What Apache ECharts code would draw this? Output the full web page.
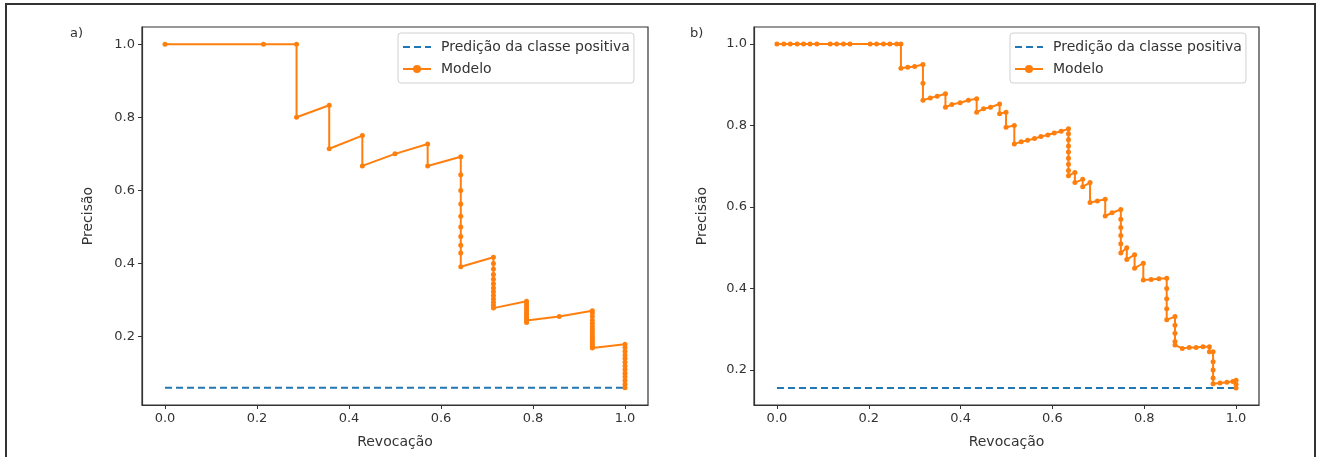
<!DOCTYPE html>
<html>
<head>
<meta charset="utf-8">
<script src="https://cdn.jsdelivr.net/npm/echarts@6/dist/echarts.min.js"></script>
<style>
html,body{margin:0;padding:0;background:#fff;}
#chart{width:1321px;height:457px;}
</style>
</head>
<body>
<div id="chart"></div>
<script>
// ---- Data ----
const panelLabels = ['a)', 'b)'];
const seriesNames = ['Predição da classe positiva', 'Modelo'];
const xAxisName = 'Revocação';
const yAxisName = 'Precisão';
const xTicks = [0.0, 0.2, 0.4, 0.6, 0.8, 1.0];
const yTicks = [0.2, 0.4, 0.6, 0.8, 1.0];

// Panel a
const baselineA = 0.06;
const recallA = [
  0.0, 0.214, 0.286, 0.286, 0.357, 0.357, 0.429, 0.429, 0.5, 0.571, 0.571, 0.643,
  0.643, 0.643, 0.643, 0.643, 0.643, 0.643, 0.643, 0.643, 0.643,
  0.714, 0.714, 0.714, 0.714, 0.714, 0.714, 0.714, 0.714, 0.714, 0.714, 0.714, 0.714, 0.714,
  0.786, 0.786, 0.786, 0.786, 0.786, 0.786, 0.786, 0.786, 0.786, 0.786,
  0.857,
  0.929, 0.929, 0.929, 0.929, 0.929, 0.929, 0.929, 0.929, 0.929, 0.929, 0.929, 0.929, 0.929, 0.929, 0.929, 0.929,
  1.0, 1.0, 1.0, 1.0, 1.0, 1.0, 1.0, 1.0, 1.0, 1.0, 1.0, 1.0, 1.0
];
const precisionA = [
  1.0, 1.0, 1.0, 0.8, 0.833, 0.714, 0.75, 0.667, 0.7, 0.727, 0.667, 0.692,
  0.643, 0.6, 0.5625, 0.529, 0.5, 0.474, 0.45, 0.429, 0.391,
  0.417, 0.4, 0.385, 0.37, 0.357, 0.345, 0.333, 0.323, 0.3125, 0.303, 0.294, 0.286, 0.278,
  0.297, 0.289, 0.282, 0.275, 0.268, 0.262, 0.256, 0.25, 0.244, 0.239,
  0.255,
  0.271, 0.265, 0.255, 0.245, 0.236, 0.228, 0.22, 0.213, 0.206, 0.2, 0.194, 0.188, 0.183, 0.178, 0.173, 0.169,
  0.179, 0.17, 0.16, 0.15, 0.14, 0.13, 0.12, 0.11, 0.1, 0.09, 0.08, 0.07, 0.06
];

// Panel b
const baselineB = 0.156;
const recallB = [
  0.0, 0.015, 0.029, 0.044, 0.058, 0.072, 0.087, 0.116, 0.13, 0.145, 0.159, 0.203, 0.217, 0.232, 0.246, 0.261, 0.27,
  0.27, 0.285, 0.3, 0.318, 0.318, 0.318, 0.334, 0.349, 0.367, 0.367, 0.381, 0.399, 0.417, 0.435, 0.435,
  0.45, 0.465, 0.485, 0.485, 0.499, 0.499, 0.517, 0.517,
  0.532, 0.546, 0.561, 0.575, 0.59, 0.604, 0.619, 0.635,
  0.635, 0.635, 0.635, 0.635, 0.635, 0.635, 0.635, 0.635,
  0.649, 0.649, 0.666, 0.666, 0.682, 0.682, 0.698, 0.715, 0.715, 0.73, 0.749,
  0.749, 0.749, 0.749, 0.749, 0.749,
  0.762, 0.762, 0.779, 0.779, 0.798, 0.798, 0.815, 0.832, 0.849,
  0.849, 0.849, 0.849, 0.849, 0.867, 0.867, 0.867, 0.867, 0.867,
  0.883, 0.898, 0.913, 0.928, 0.942, 0.942, 0.95,
  0.95, 0.95, 0.95, 0.95, 0.965, 0.98, 0.993, 1.0, 1.0, 1.0
];
const precisionB = [
  1.0, 1.0, 1.0, 1.0, 1.0, 1.0, 1.0, 1.0, 1.0, 1.0, 1.0, 1.0, 1.0, 1.0, 1.0, 1.0, 1.0,
  0.941, 0.943, 0.945, 0.95, 0.904, 0.862, 0.868, 0.872, 0.878, 0.845, 0.852, 0.856, 0.862, 0.866, 0.833,
  0.841, 0.845, 0.853, 0.829, 0.833, 0.796, 0.8, 0.755,
  0.76, 0.764, 0.768, 0.773, 0.777, 0.782, 0.786, 0.792,
  0.78, 0.765, 0.75, 0.735, 0.72, 0.705, 0.69, 0.677,
  0.685, 0.66, 0.668, 0.65, 0.66, 0.611, 0.615, 0.619, 0.578, 0.586, 0.594,
  0.57, 0.55, 0.53, 0.51, 0.487,
  0.5, 0.471, 0.483, 0.45, 0.462, 0.421, 0.422, 0.424, 0.425,
  0.4, 0.375, 0.35, 0.323, 0.331, 0.31, 0.29, 0.27, 0.261,
  0.253, 0.255, 0.255, 0.257, 0.257, 0.245, 0.245,
  0.22, 0.2, 0.18, 0.166, 0.168, 0.17, 0.172, 0.175, 0.165, 0.156
];

// ---- Build ----
const zip = (xs, ys) => xs.map((x, i) => [x, ys[i]]);
const ORANGE = '#ff7f0e', BLUE = '#1f77b4', AX = '#333';
const FONT = 'DejaVu Sans';

const grids = [
  {left: 142, top: 27, width: 506, height: 378},
  {left: 754, top: 27, width: 505, height: 378}
];
const yRanges = [[0.013, 1.047], [0.114, 1.042]];

function xAxis(i) {
  return {
    type: 'value', gridIndex: i, min: -0.05, max: 1.05,
    name: xAxisName, nameLocation: 'middle', nameGap: 30,
    nameTextStyle: {fontFamily: FONT, fontSize: 14, color: '#333'},
    axisLine: {show: true, onZero: false, lineStyle: {color: AX, width: 1.2}},
    axisTick: {show: true, length: 4, customValues: xTicks, lineStyle: {color: AX}},
    axisLabel: {customValues: xTicks, formatter: v => v.toFixed(1), fontFamily: FONT, fontSize: 13, color: '#333', margin: 7},
    splitLine: {show: false}
  };
}
function yAxis(i) {
  return {
    type: 'value', gridIndex: i, min: yRanges[i][0], max: yRanges[i][1],
    name: yAxisName, nameLocation: 'middle', nameGap: i === 0 ? 47 : 45,
    nameTextStyle: {fontFamily: FONT, fontSize: 14, color: '#333'},
    axisLine: {show: true, onZero: false, lineStyle: {color: AX, width: 1.2}},
    axisTick: {show: true, length: 4, customValues: yTicks, lineStyle: {color: AX}},
    axisLabel: {customValues: yTicks, formatter: v => v.toFixed(1), fontFamily: FONT, fontSize: 13, color: '#333', margin: 7},
    splitLine: {show: false}
  };
}
function legend(i) {
  return {
    left: i === 0 ? 398 : 1010, top: 33, orient: 'vertical',
    data: [
      {name: seriesNames[0], itemStyle: {opacity: 0}},
      {name: seriesNames[1]}
    ],
    itemWidth: 28, itemHeight: 10, itemGap: 8,
    padding: [7, 4, 7, 4],
    borderColor: '#d0d0d0', borderWidth: 1, borderRadius: 3,
    backgroundColor: 'rgba(255,255,255,0.85)',
    textStyle: {fontFamily: FONT, fontSize: 14, color: '#333', padding: [0, 0, 0, 5]},
    selectedMode: false
  };
}
const modelData = [zip(recallA, precisionA), zip(recallB, precisionB)];
const baselines = [baselineA, baselineB];

const series = [];
[0, 1].forEach(i => {
  series.push({
    name: seriesNames[0], type: 'line', xAxisIndex: i, yAxisIndex: i,
    data: [[0, baselines[i]], [1, baselines[i]]],
    showSymbol: false, symbol: 'none',
    lineStyle: {color: BLUE, width: 2, type: [7, 4]},
    itemStyle: {color: BLUE}, z: 2, silent: true
  });
  series.push({
    name: seriesNames[1], type: 'line', xAxisIndex: i, yAxisIndex: i,
    data: modelData[i],
    symbol: 'circle', symbolSize: 5, showAllSymbol: true,
    lineStyle: {color: ORANGE, width: 2},
    itemStyle: {color: ORANGE}, z: 3, silent: true
  });
});

const chart = echarts.init(document.getElementById('chart'), null, {renderer: 'canvas'});
chart.setOption({
  animation: false,
  backgroundColor: '#fff',
  grid: grids.map(g => Object.assign({show: true, borderColor: AX, borderWidth: 1.2, backgroundColor: 'transparent'}, g)),
  xAxis: [xAxis(0), xAxis(1)],
  yAxis: [yAxis(0), yAxis(1)],
  legend: [legend(0), legend(1)],
  series: series,
  graphic: [
    {type: 'rect', shape: {x: 6, y: 4, width: 1309, height: 470}, style: {fill: 'none', stroke: '#333', lineWidth: 2}, silent: true},
    {type: 'text', left: 70, top: 27, style: {text: panelLabels[0], font: '13px "DejaVu Sans"', fill: '#333'}},
    {type: 'text', left: 690, top: 27, style: {text: panelLabels[1], font: '13px "DejaVu Sans"', fill: '#333'}}
  ]
});
</script>
</body>
</html>
